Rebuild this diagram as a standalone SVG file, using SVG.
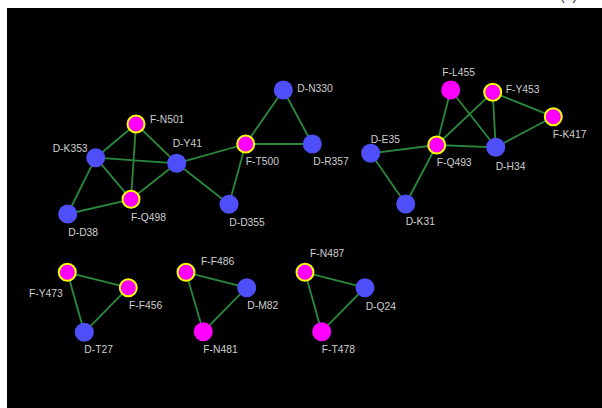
<svg xmlns="http://www.w3.org/2000/svg" width="602" height="408" viewBox="0 0 602 408">
  <style>
    .edge { stroke: #2a8a3c; stroke-width: 1.8; fill: none; }
    .d { fill: #4f4ffa; }
    .f { fill: #ff00ff; }
    .fh { fill: #ff00ff; stroke: #ffff00; stroke-width: 2; }
    .lbl { font-family: "Liberation Sans", Arial, sans-serif; font-size: 10.3px; fill: #cfcfcf; }
  </style>
  <rect x="0" y="0" width="602" height="408" fill="#ffffff"/>
  <rect x="7" y="8" width="595" height="400" fill="#000000"/>
  <!-- panel tag, mostly above the top edge -->
  <text x="560" y="0" font-family="Liberation Sans, Arial, sans-serif" font-size="14" fill="#333333">(b)</text>

  <g id="connectors">
    <!-- group 1 -->
    <line class="edge" x1="95.7" y1="157.7" x2="136" y2="124"/>
    <line class="edge" x1="95.7" y1="157.7" x2="176.7" y2="163.3"/>
    <line class="edge" x1="95.7" y1="157.7" x2="131" y2="199.3"/>
    <line class="edge" x1="95.7" y1="157.7" x2="67.7" y2="214"/>
    <line class="edge" x1="136" y1="124" x2="176.7" y2="163.3"/>
    <line class="edge" x1="136" y1="124" x2="131" y2="199.3"/>
    <line class="edge" x1="131" y1="199.3" x2="176.7" y2="163.3"/>
    <line class="edge" x1="131" y1="199.3" x2="67.7" y2="214"/>
    <line class="edge" x1="176.7" y1="163.3" x2="245.7" y2="144"/>
    <line class="edge" x1="176.7" y1="163.3" x2="229" y2="204.3"/>
    <line class="edge" x1="245.7" y1="144" x2="229" y2="204.3"/>
    <line class="edge" x1="245.7" y1="144" x2="283.3" y2="90"/>
    <line class="edge" x1="245.7" y1="144" x2="312.3" y2="144"/>
    <line class="edge" x1="283.3" y1="90" x2="312.3" y2="144"/>
    <!-- group 2 -->
    <line class="edge" x1="370.7" y1="153.3" x2="436.7" y2="145"/>
    <line class="edge" x1="370.7" y1="153.3" x2="405.7" y2="204"/>
    <line class="edge" x1="436.7" y1="145" x2="405.7" y2="204"/>
    <line class="edge" x1="436.7" y1="145" x2="450.7" y2="90"/>
    <line class="edge" x1="436.7" y1="145" x2="492.7" y2="92.3"/>
    <line class="edge" x1="436.7" y1="145" x2="495.7" y2="147.3"/>
    <line class="edge" x1="450.7" y1="90" x2="495.7" y2="147.3"/>
    <line class="edge" x1="492.7" y1="92.3" x2="495.7" y2="147.3"/>
    <line class="edge" x1="492.7" y1="92.3" x2="553.3" y2="116.7"/>
    <line class="edge" x1="553.3" y1="116.7" x2="495.7" y2="147.3"/>
    <!-- triangles -->
    <line class="edge" x1="67.3" y1="272.3" x2="128.3" y2="287.7"/>
    <line class="edge" x1="67.3" y1="272.3" x2="84.3" y2="332.3"/>
    <line class="edge" x1="128.3" y1="287.7" x2="84.3" y2="332.3"/>
    <line class="edge" x1="186" y1="272.3" x2="246.7" y2="287.7"/>
    <line class="edge" x1="186" y1="272.3" x2="203.3" y2="331.7"/>
    <line class="edge" x1="246.7" y1="287.7" x2="203.3" y2="331.7"/>
    <line class="edge" x1="305" y1="272.3" x2="365" y2="287.7"/>
    <line class="edge" x1="305" y1="272.3" x2="321.7" y2="331.7"/>
    <line class="edge" x1="365" y1="287.7" x2="321.7" y2="331.7"/>
  </g>

  <g id="F-N501"><circle class="fh" cx="136" cy="124" r="8.5"/><text class="lbl" x="150" y="123">F-N501</text></g>
  <g id="D-K353"><circle class="d" cx="95.7" cy="157.7" r="9.5"/><text class="lbl" x="52.7" y="151.5">D-K353</text></g>
  <g id="D-Y41"><circle class="d" cx="176.7" cy="163.3" r="9.5"/><text class="lbl" x="172.7" y="147">D-Y41</text></g>
  <g id="F-Q498"><circle class="fh" cx="131" cy="199.3" r="8.5"/><text class="lbl" x="131" y="221">F-Q498</text></g>
  <g id="D-D38"><circle class="d" cx="67.7" cy="214" r="9.5"/><text class="lbl" x="68.3" y="235.5">D-D38</text></g>
  <g id="F-T500"><circle class="fh" cx="245.7" cy="144" r="8.5"/><text class="lbl" x="245.7" y="164.5">F-T500</text></g>
  <g id="D-D355"><circle class="d" cx="229" cy="204.3" r="9.5"/><text class="lbl" x="229.3" y="225.5">D-D355</text></g>
  <g id="D-N330"><circle class="d" cx="283.3" cy="90" r="9.5"/><text class="lbl" x="297.3" y="92">D-N330</text></g>
  <g id="D-R357"><circle class="d" cx="312.3" cy="144" r="9.5"/><text class="lbl" x="313.3" y="165">D-R357</text></g>

  <g id="D-E35"><circle class="d" cx="370.7" cy="153.3" r="9.5"/><text class="lbl" x="370.7" y="142.8">D-E35</text></g>
  <g id="F-Q493"><circle class="fh" cx="436.7" cy="145" r="8.5"/><text class="lbl" x="436.7" y="166">F-Q493</text></g>
  <g id="D-K31"><circle class="d" cx="405.7" cy="204" r="9.5"/><text class="lbl" x="405.7" y="225">D-K31</text></g>
  <g id="F-L455"><circle class="f" cx="450.7" cy="90" r="9.5"/><text class="lbl" x="442.3" y="75.5">F-L455</text></g>
  <g id="F-Y453"><circle class="fh" cx="492.7" cy="92.3" r="8.5"/><text class="lbl" x="505.7" y="93">F-Y453</text></g>
  <g id="F-K417"><circle class="fh" cx="553.3" cy="116.7" r="8.5"/><text class="lbl" x="552.7" y="137.8">F-K417</text></g>
  <g id="D-H34"><circle class="d" cx="495.7" cy="147.3" r="9.5"/><text class="lbl" x="495.7" y="169.8">D-H34</text></g>

  <g id="F-Y473"><circle class="fh" cx="67.3" cy="272.3" r="8.5"/><text class="lbl" x="29" y="297">F-Y473</text></g>
  <g id="F-F456"><circle class="fh" cx="128.3" cy="287.7" r="8.5"/><text class="lbl" x="129" y="308.8">F-F456</text></g>
  <g id="D-T27"><circle class="d" cx="84.3" cy="332.3" r="9.5"/><text class="lbl" x="84.3" y="353">D-T27</text></g>

  <g id="F-F486"><circle class="fh" cx="186" cy="272.3" r="8.5"/><text class="lbl" x="201" y="264.8">F-F486</text></g>
  <g id="D-M82"><circle class="d" cx="246.7" cy="287.7" r="9.5"/><text class="lbl" x="247.3" y="309">D-M82</text></g>
  <g id="F-N481"><circle class="f" cx="203.3" cy="331.7" r="9.5"/><text class="lbl" x="203.3" y="353">F-N481</text></g>

  <g id="F-N487"><circle class="fh" cx="305" cy="272.3" r="8.5"/><text class="lbl" x="310" y="257">F-N487</text></g>
  <g id="D-Q24"><circle class="d" cx="365" cy="287.7" r="9.5"/><text class="lbl" x="365.7" y="309.5">D-Q24</text></g>
  <g id="F-T478"><circle class="f" cx="321.7" cy="331.7" r="9.5"/><text class="lbl" x="321.7" y="353">F-T478</text></g>
</svg>
